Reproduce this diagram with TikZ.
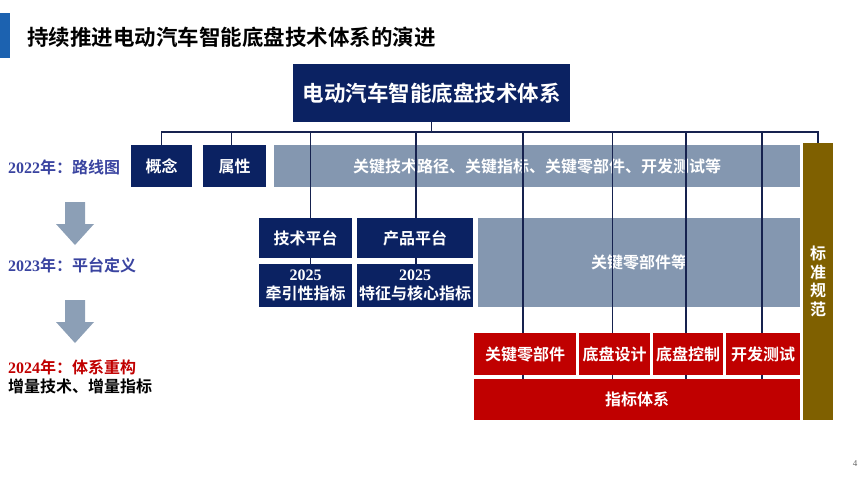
\documentclass[tikz,border=0pt]{standalone}
\usepackage{fontspec}
\setmainfont{Noto Sans CJK SC}[BoldFont=* Bold]
\newfontfamily\tnr{Liberation Serif}
\definecolor{cnavy}{HTML}{0B2262}
\definecolor{cgray}{HTML}{8497B0}
\definecolor{cred}{HTML}{C00000}
\definecolor{colive}{HTML}{7F6000}
\definecolor{cline}{HTML}{16224F}
\definecolor{cblue}{HTML}{3A44A0}
\definecolor{ctitle}{HTML}{1C62B0}
\definecolor{carrow}{HTML}{8C9FB6}
\begin{document}
\begin{tikzpicture}[x=1pt,y=-1pt,
  base/.style={inner sep=0pt, outer sep=0pt, align=center, text=white,
    font=\bfseries\fontsize{16}{19}\selectfont},
  navybox/.style={base, fill=cnavy},
  graybox/.style={base, fill=cgray},
  redbox/.style={base, fill=cred},
  olivebox/.style={base, fill=colive, font=\bfseries\fontsize{16}{18.5}\selectfont},
  conn/.style={draw=cline, line width=1.9pt},
  lbl/.style={anchor=west, inner sep=0pt, font=\bfseries\fontsize{16}{18}\selectfont},
  downarrow/.style={fill=carrow}
]
\useasboundingbox (0,0) rectangle (865,487);

% title
\fill[ctitle] (0,13) rectangle (10,58);
\node[anchor=west, inner sep=0pt, font=\bfseries\fontsize{21.5}{24}\selectfont] (title) at (27,37) {持续推进电动汽车智能底盘技术体系的演进};

% top box
\node[navybox, minimum width=277pt, minimum height=58pt, font=\bfseries\fontsize{21.5}{24}\selectfont] (top) at (431.5,93) {电动汽车智能底盘技术体系};

% row 1
\node[navybox, minimum width=61pt, minimum height=42pt] (gn) at (161.5,166) {概念};
\node[navybox, minimum width=63pt, minimum height=42pt] (sx) at (234.5,166) {属性};
\node[graybox, minimum width=526pt, minimum height=42pt] (bar1) at (537,166) {关键技术路径、关键指标、关键零部件、开发测试等};
\node[olivebox, minimum width=30pt, minimum height=277pt] (bzgf) at (818,281.5) {标\\准\\规\\范};

% row 2
\node[navybox, minimum width=93pt, minimum height=40pt] (jspt) at (305.5,238) {技术平台};
\node[navybox, minimum width=93pt, minimum height=43pt] (qyx) at (305.5,285.5) {{\tnr\bfseries 2025}\\牵引性指标};
\node[navybox, minimum width=116pt, minimum height=40pt] (cppt) at (415,238) {产品平台};
\node[navybox, minimum width=116pt, minimum height=43pt] (tzhx) at (415,285.5) {{\tnr\bfseries 2025}\\特征与核心指标};
\node[graybox, minimum width=322pt, minimum height=89pt] (bar2) at (639,262.5) {关键零部件等};

% row 3
\node[redbox, minimum width=102pt, minimum height=42pt] (r1) at (525,354) {关键零部件};
\node[redbox, minimum width=71pt, minimum height=42pt] (r2) at (614.5,354) {底盘设计};
\node[redbox, minimum width=70pt, minimum height=42pt] (r3) at (688,354) {底盘控制};
\node[redbox, minimum width=74pt, minimum height=42pt] (r4) at (763,354) {开发测试};
\node[redbox, minimum width=326pt, minimum height=41pt] (zb) at (637,399.5) {指标体系};

% connectors
\coordinate (busL) at (161.5,132);
\coordinate (busR) at (818,132);
\draw[conn] (top.south) -- (top.south |- busL);
\draw[conn, line cap=rect] (busL) -- (busR);
\draw[conn] (gn.north) -- (gn.north |- busL);
\draw[conn] ([xshift=-3pt]sx.north) -- ([xshift=-3pt]sx.north |- busL);
\draw[conn] ([xshift=5pt]jspt.north) -- ([xshift=5pt]jspt.north |- busL);
\draw[conn] ([xshift=1pt]cppt.north) -- ([xshift=1pt]cppt.north |- busL);
\draw[conn] ([xshift=-2pt]r1.north) -- ([xshift=-2pt]r1.north |- busL);
\draw[conn] ([xshift=-2pt]r2.north) -- ([xshift=-2pt]r2.north |- busL);
\draw[conn] ([xshift=-2pt]r3.north) -- ([xshift=-2pt]r3.north |- busL);
\draw[conn] ([xshift=-1pt]r4.north) -- ([xshift=-1pt]r4.north |- busL);
\draw[conn] (bzgf.north) -- (bzgf.north |- busL);
\draw[conn] ([xshift=5pt]jspt.south) -- ([xshift=5pt]qyx.north);
\draw[conn] ([xshift=1pt]cppt.south) -- ([xshift=1pt]tzhx.north);
\draw[conn] ([xshift=-2pt]r1.south) -- ([xshift=-2pt]r1.south |- zb.north);
\draw[conn] ([xshift=-2pt]r2.south) -- ([xshift=-2pt]r2.south |- zb.north);
\draw[conn] ([xshift=-2pt]r3.south) -- ([xshift=-2pt]r3.south |- zb.north);
\draw[conn] ([xshift=-1pt]r4.south) -- ([xshift=-1pt]r4.south |- zb.north);

% left timeline
\node[lbl, text=cblue] (y22) at (8,167) {{\tnr 2022}年：路线图};
\fill[downarrow] (65,202) -- (85,202) -- (85,224) -- (94,224) -- (75,245) -- (56,224) -- (65,224) -- cycle;
\node[lbl, text=cblue] (y23) at (8,265) {{\tnr 2023}年：平台定义};
\fill[downarrow] (65,300) -- (85,300) -- (85,322) -- (94,322) -- (75,343) -- (56,322) -- (65,322) -- cycle;
\node[lbl, text=cred] (y24) at (8,367) {{\tnr 2024}年：体系重构};
\node[lbl, text=black] (zl) at (8,386) {增量技术、增量指标};

% page number
\node[inner sep=0pt, text=black!60, font=\tnr\fontsize{9}{10}\selectfont] (pg) at (855,464) {4};
\end{tikzpicture}
\end{document}
